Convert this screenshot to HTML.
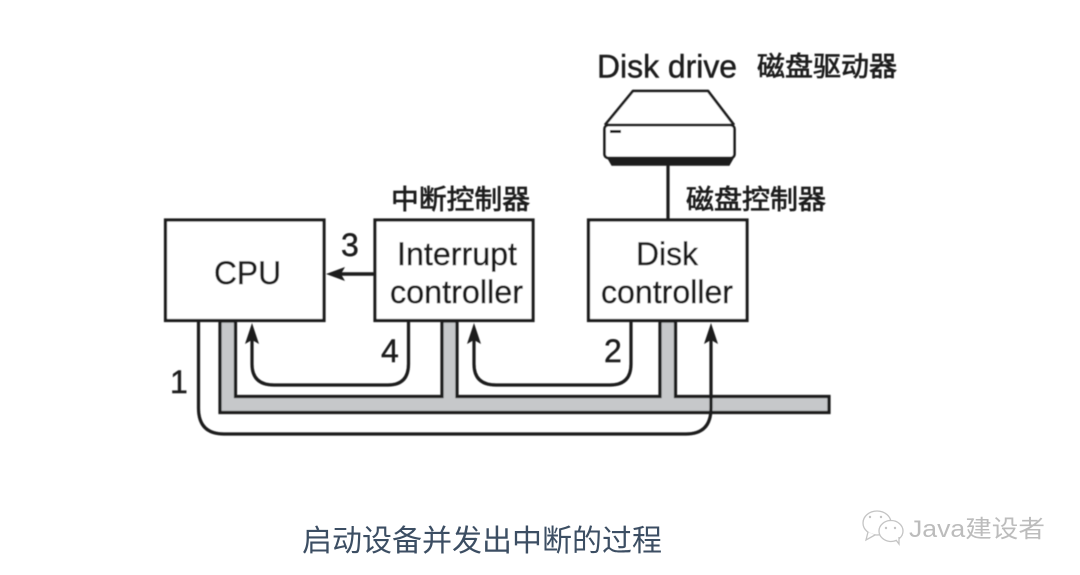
<!DOCTYPE html>
<html><head><meta charset="utf-8">
<style>
html,body{margin:0;padding:0;background:#fff;width:1080px;height:575px;overflow:hidden}
svg{display:block}
text{font-family:"Liberation Sans","Noto Sans CJK SC",sans-serif;fill:#1c1c1c}
.c{stroke:#1c1c1c;stroke-width:.7px}
.t{stroke:#1c1c1c;stroke-width:.45px}
</style></head>
<body>
<svg width="1080" height="575" viewBox="0 0 1080 575" xmlns="http://www.w3.org/2000/svg">
<defs>
<filter id="b" x="-5%" y="-5%" width="110%" height="110%"><feGaussianBlur stdDeviation="0.4"/></filter>
</defs>
<g filter="url(#b)">
<!-- bus -->
<path d="M220 321V412.500H829V396.500H675.500V321H660V396.500H457V321H442V396.500H235.500V321Z" fill="#c6c8ca" stroke="#1c1c1c" stroke-width="3.200"/>
<!-- disk -->
<path d="M608 158L612 165H729L733 158Z" fill="#1c1c1c" stroke="#1c1c1c" stroke-width="1.500"/>
<path d="M605 125L633 91H708L734 125" fill="#fff" stroke="#1c1c1c" stroke-width="2.700" stroke-linejoin="round"/>
<rect x="604.500" y="125" width="130" height="33" rx="4" fill="#fff" stroke="#1c1c1c" stroke-width="2.700"/>
<rect x="610" y="130" width="11" height="3" fill="#1c1c1c"/>
<path d="M668 165V219" stroke="#1c1c1c" stroke-width="3.200" fill="none"/>
<!-- boxes -->
<rect x="165.500" y="220" width="158.500" height="100.500" fill="#fff" stroke="#1c1c1c" stroke-width="3.200"/>
<rect x="375" y="220" width="158" height="100.500" fill="#fff" stroke="#1c1c1c" stroke-width="3.200"/>
<rect x="588.500" y="220" width="158.500" height="100.500" fill="#fff" stroke="#1c1c1c" stroke-width="3.200"/>
<!-- arrow 3 -->
<path d="M375 274H340" stroke="#1c1c1c" stroke-width="3.400" fill="none"/>
<path d="M326 274L345 267L341 274L345 281Z" fill="#1c1c1c"/>
<!-- arrow 1 -->
<path d="M198.500 321V408Q198.500 434 224 434H686Q711 434 711 408V338" stroke="#1c1c1c" stroke-width="3.200" fill="none"/>
<path d="M711 323L718 344L711 340L704 344Z" fill="#1c1c1c"/>
<!-- arrow 4 -->
<path d="M408.500 321V364Q408.500 385 388 385H274Q252 385 252 364V338" stroke="#1c1c1c" stroke-width="3.200" fill="none"/>
<path d="M252 323L259 344L252 340L245 344Z" fill="#1c1c1c"/>
<!-- arrow 2 -->
<path d="M631 321V364Q631 385 610 385H496Q474 385 474 364V338" stroke="#1c1c1c" stroke-width="3.200" fill="none"/>
<path d="M474 323L481 344L474 340L467 344Z" fill="#1c1c1c"/>
<!-- labels -->
<text class="t" x="597" y="77.500" font-size="32" textLength="140" lengthAdjust="spacingAndGlyphs">Disk drive</text>
<text class="c" x="757" y="76" font-size="27" textLength="140" lengthAdjust="spacingAndGlyphs">磁盘驱动器</text>
<text class="c" x="686" y="209" font-size="27" textLength="140" lengthAdjust="spacingAndGlyphs">磁盘控制器</text>
<text class="c" x="391" y="209" font-size="27" textLength="139" lengthAdjust="spacingAndGlyphs">中断控制器</text>
<text class="t" x="214" y="284" font-size="32" textLength="67" lengthAdjust="spacingAndGlyphs">CPU</text>
<text class="t" x="397" y="265" font-size="32" textLength="120" lengthAdjust="spacingAndGlyphs">Interrupt</text>
<text class="t" x="390" y="303" font-size="32" textLength="133" lengthAdjust="spacingAndGlyphs">controller</text>
<text class="t" x="636" y="265" font-size="32" textLength="62" lengthAdjust="spacingAndGlyphs">Disk</text>
<text class="t" x="601" y="303" font-size="32" textLength="132" lengthAdjust="spacingAndGlyphs">controller</text>
<text class="t" x="341" y="256" font-size="32">3</text>
<text class="t" x="381" y="362" font-size="32">4</text>
<text class="t" x="604" y="362" font-size="32">2</text>
<text class="t" x="170" y="393" font-size="32">1</text>
</g>
<text x="302" y="551" font-size="30" style="fill:#3c4e63" textLength="360" lengthAdjust="spacingAndGlyphs">启动设备并发出中断的过程</text>
<!-- watermark -->
<g fill="#fff" stroke="#c4c4c4" stroke-width="1.300">
<ellipse cx="877" cy="523" rx="14" ry="12"/>
<path d="M868 532L866 540L875 535" />
<ellipse cx="891" cy="531" rx="12" ry="10.500"/>
<path d="M896 540L899 544L899 537"/>
</g>
<g fill="#c4c4c4"><circle cx="870" cy="517" r="1.200"/><circle cx="881" cy="517" r="1.200"/><circle cx="886" cy="528" r="1.200"/><circle cx="895" cy="528" r="1.200"/></g>
<text x="909" y="537" font-size="24" style="fill:#bcbcbc" textLength="136" lengthAdjust="spacingAndGlyphs">Java建设者</text>
</svg>
</body></html>
